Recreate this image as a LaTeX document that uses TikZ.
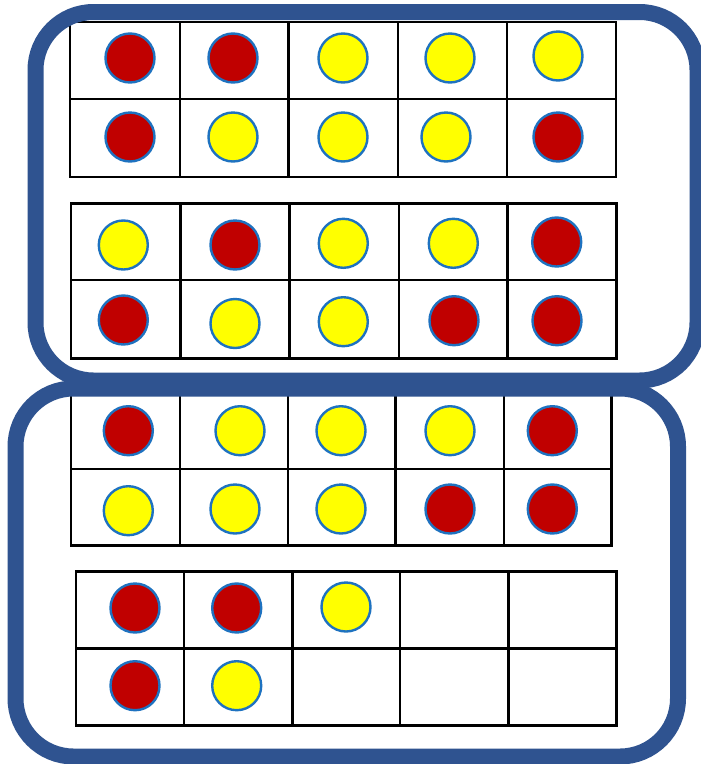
\documentclass[tikz,border=0pt]{standalone}
\definecolor{frameblue}{RGB}{47,83,144}
\definecolor{dotred}{RGB}{192,0,0}
\definecolor{dotyellow}{RGB}{255,255,0}
\definecolor{dotedge}{RGB}{30,114,192}
\tikzset{
  frame/.style={draw=frameblue, line width=16pt, rounded corners=58pt},
  gridline/.style={draw=black, line width=2.5pt},
  dot/.style={circle, draw=dotedge, line width=2.4pt, minimum size=49pt, inner sep=0pt},
  rdot/.style={dot, fill=dotred},
  ydot/.style={dot, fill=dotyellow}
}
\begin{document}
\begin{tikzpicture}[x=1pt, y=-1pt]
\useasboundingbox (0,0) rectangle (701,764);
\clip (0,0) rectangle (701,764);
\fill[white] (0,0) rectangle (701,764);

% ten-frame grids
\foreach \cols/\ra/\rb/\rc in {
  {70,180,288.5,398,507,616}/22/99/177,
  {71,180.3,289.3,399,507.7,616.7}/203.3/280/358.3,
  {71,180,288,395.7,504,611.7}/392/469/545.7,
  {76,184,292.3,400,508.3,616.7}/571.7/648.3/725.7}{
  \foreach \c [count=\i] in \cols {
    \ifnum\i=1 \xdef\xfirst{\c}\fi
    \xdef\xlast{\c}
    \draw[gridline] (\c,\ra) -- (\c,\rc);
  }
  \draw[gridline, line cap=rect] (\xfirst,\ra) -- (\xlast,\ra);
  \draw[gridline, line cap=rect] (\xfirst,\rb) -- (\xlast,\rb);
  \draw[gridline, line cap=rect] (\xfirst,\rc) -- (\xlast,\rc);
}

% grid 1
\node[rdot] (a11) at (130,58) {};
\node[rdot] (a12) at (233,58) {};
\node[ydot] (a13) at (343,58) {};
\node[ydot] (a14) at (450,58) {};
\node[ydot] (a15) at (558,56) {};
\node[rdot] (a21) at (130,137) {};
\node[ydot] (a22) at (233,137) {};
\node[ydot] (a23) at (343,137) {};
\node[ydot] (a24) at (446,137) {};
\node[rdot] (a25) at (558,137) {};

% grid 2
\node[ydot] (b11) at (123.3,245) {};
\node[rdot] (b12) at (235,245) {};
\node[ydot] (b13) at (343.3,243.3) {};
\node[ydot] (b14) at (453.3,243.3) {};
\node[rdot] (b15) at (556.7,242) {};
\node[rdot] (b21) at (123.3,320) {};
\node[ydot] (b22) at (235,323.5) {};
\node[ydot] (b23) at (343.3,321.7) {};
\node[rdot] (b24) at (454,320.7) {};
\node[rdot] (b25) at (557,320.7) {};

% grid 3
\node[rdot] (c11) at (128.3,430.7) {};
\node[ydot] (c12) at (240,430.7) {};
\node[ydot] (c13) at (341,430.7) {};
\node[ydot] (c14) at (450,430.7) {};
\node[rdot] (c15) at (552.3,430.7) {};
\node[ydot] (c21) at (128.3,510.7) {};
\node[ydot] (c22) at (235,509) {};
\node[ydot] (c23) at (341,509) {};
\node[rdot] (c24) at (450,509) {};
\node[rdot] (c25) at (552.3,509) {};

% grid 4
\node[rdot] (d11) at (135,608) {};
\node[rdot] (d12) at (236.7,608) {};
\node[ydot] (d13) at (346,607) {};
\node[rdot] (d21) at (135,685.7) {};
\node[ydot] (d22) at (236.7,685.7) {};

% rounded frames
\draw[frame] (35.5,12) rectangle (697.5,380.5);
\draw[frame] (15.5,388.5) rectangle (678,756.5);
\end{tikzpicture}
\end{document}
